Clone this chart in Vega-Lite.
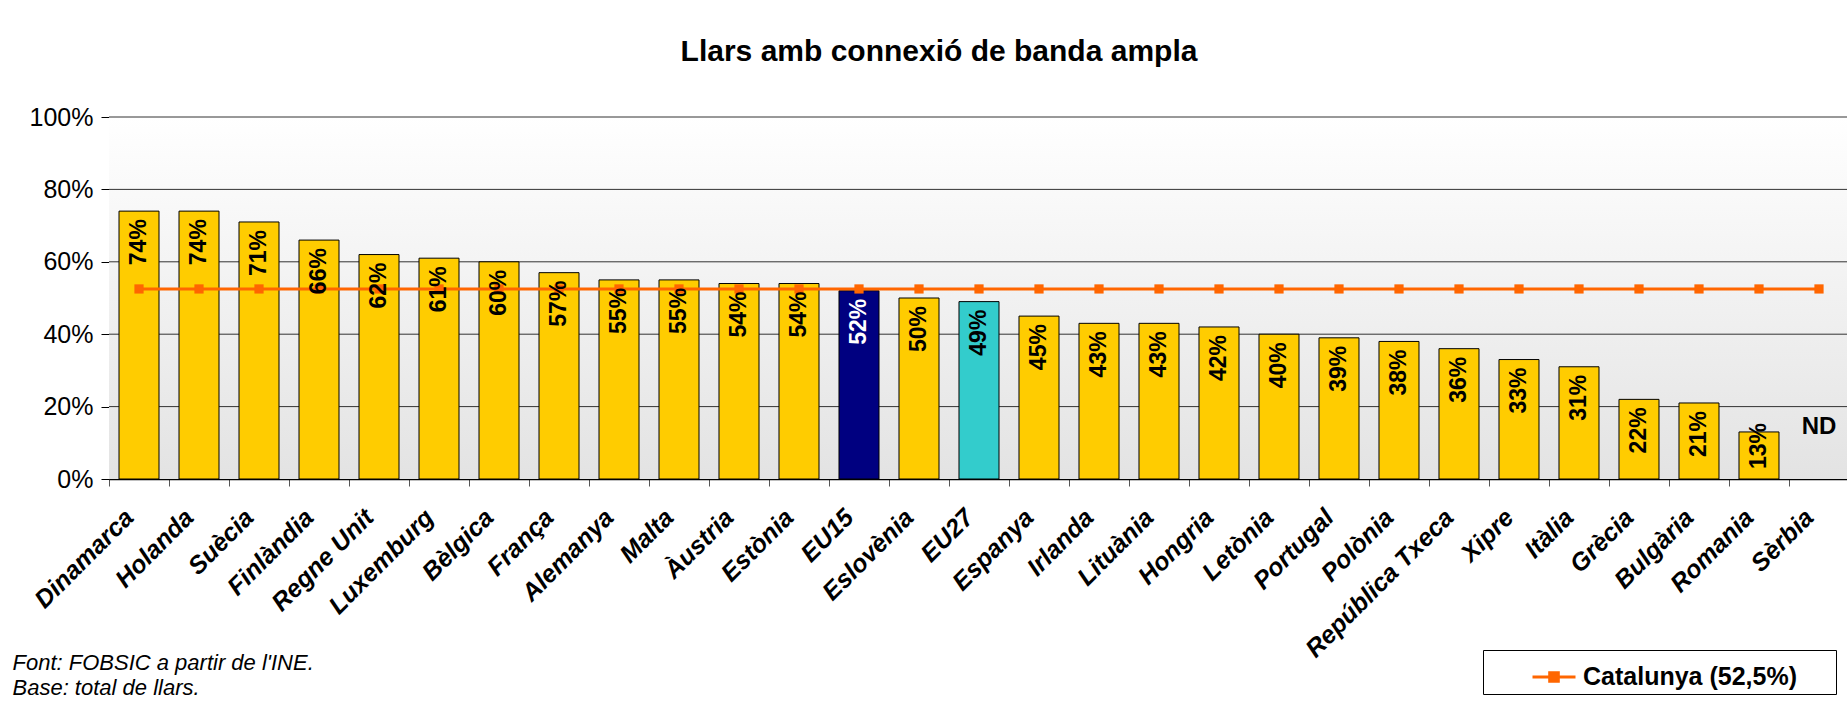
{
  "$schema": "https://vega.github.io/schema/vega-lite/v6.json",
  "autosize": {"type": "none"},
  "width": 1740,
  "height": 362,
  "padding": {"left": 109, "top": 117, "right": 0, "bottom": 236},
  "background": "white",
  "title": {
    "text": "Llars amb connexió de banda ampla",
    "font": "Liberation Sans",
    "fontSize": 30,
    "fontWeight": "bold",
    "color": "black",
    "anchor": "middle",
    "dx": -40,
    "offset": 14,
    "baseline": "alphabetic"
  },
  "config": {"view": {"stroke": null}, "font": "Liberation Sans"},
  "data": {
    "values": [
      {"pais": "Dinamarca", "valor": 0.74, "catalunya": 0.525},
      {"pais": "Holanda", "valor": 0.74, "catalunya": 0.525},
      {"pais": "Suècia", "valor": 0.71, "catalunya": 0.525},
      {"pais": "Finlàndia", "valor": 0.66, "catalunya": 0.525},
      {"pais": "Regne Unit", "valor": 0.62, "catalunya": 0.525},
      {"pais": "Luxemburg", "valor": 0.61, "catalunya": 0.525},
      {"pais": "Bèlgica", "valor": 0.60, "catalunya": 0.525},
      {"pais": "França", "valor": 0.57, "catalunya": 0.525},
      {"pais": "Alemanya", "valor": 0.55, "catalunya": 0.525},
      {"pais": "Malta", "valor": 0.55, "catalunya": 0.525},
      {"pais": "Àustria", "valor": 0.54, "catalunya": 0.525},
      {"pais": "Estònia", "valor": 0.54, "catalunya": 0.525},
      {"pais": "EU15", "valor": 0.52, "catalunya": 0.525},
      {"pais": "Eslovènia", "valor": 0.50, "catalunya": 0.525},
      {"pais": "EU27", "valor": 0.49, "catalunya": 0.525},
      {"pais": "Espanya", "valor": 0.45, "catalunya": 0.525},
      {"pais": "Irlanda", "valor": 0.43, "catalunya": 0.525},
      {"pais": "Lituània", "valor": 0.43, "catalunya": 0.525},
      {"pais": "Hongria", "valor": 0.42, "catalunya": 0.525},
      {"pais": "Letònia", "valor": 0.40, "catalunya": 0.525},
      {"pais": "Portugal", "valor": 0.39, "catalunya": 0.525},
      {"pais": "Polònia", "valor": 0.38, "catalunya": 0.525},
      {"pais": "República Txeca", "valor": 0.36, "catalunya": 0.525},
      {"pais": "Xipre", "valor": 0.33, "catalunya": 0.525},
      {"pais": "Itàlia", "valor": 0.31, "catalunya": 0.525},
      {"pais": "Grècia", "valor": 0.22, "catalunya": 0.525},
      {"pais": "Bulgària", "valor": 0.21, "catalunya": 0.525},
      {"pais": "Romania", "valor": 0.13, "catalunya": 0.525},
      {"pais": "Sèrbia", "valor": null, "catalunya": 0.525}
    ]
  },
  "layer": [
    {
      "data": {"values": [{}]},
      "mark": {
        "type": "rect",
        "fill": {
          "gradient": "linear",
          "x1": 0, "y1": 0, "x2": 0, "y2": 1,
          "stops": [
            {"offset": 0, "color": "#ffffff"},
            {"offset": 1, "color": "#e3e3e3"}
          ]
        }
      },
      "encoding": {
        "y": {"datum": 1, "type": "quantitative", "scale": {"domain": [0, 1], "nice": false}},
        "y2": {"datum": 0}
      }
    },
    {
      "data": {"values": [{"g": 0.2}, {"g": 0.4}, {"g": 0.6}, {"g": 0.8}, {"g": 1}]},
      "mark": {"type": "rule", "color": "#333333", "strokeWidth": 1},
      "encoding": {"y": {"field": "g", "type": "quantitative"}}
    },
    {
      "mark": {"type": "bar", "stroke": "black", "strokeWidth": 1},
      "encoding": {
        "x": {
          "field": "pais",
          "type": "nominal",
          "sort": null,
          "scale": {"paddingInner": 0.3333, "paddingOuter": 0.1667},
          "axis": {
            "title": ["Font: FOBSIC a partir de l'INE.", "Base: total de llars."],
            "titleX": -97,
            "titleY": 190,
            "titleAlign": "left",
            "titleBaseline": "alphabetic",
            "titleFont": "Liberation Sans",
            "titleFontSize": 22,
            "titleFontStyle": "italic",
            "titleFontWeight": "normal",
            "titleLineHeight": 25,
            "titleColor": "black",
            "labelAngle": -45,
            "labelAlign": "right",
            "labelBaseline": "middle",
            "labelFont": "Liberation Sans",
            "labelFontSize": 25,
            "labelFontWeight": "bold",
            "labelFontStyle": "italic",
            "labelColor": "black",
            "labelOffset": 20,
            "labelPadding": 27,
            "labelLimit": 400,
            "labelOverlap": false,
            "tickOffset": -30,
            "tickSize": 7,
            "tickColor": "#555555",
            "domainColor": "black",
            "domainWidth": 1.5,
            "grid": false
          }
        },
        "y": {
          "field": "valor",
          "type": "quantitative",
          "scale": {"domain": [0, 1], "nice": false},
          "axis": {
            "title": null,
            "format": ".0%",
            "values": [0, 0.2, 0.4, 0.6, 0.8, 1],
            "grid": false,
            "labelFont": "Liberation Sans",
            "labelFontSize": 25,
            "labelColor": "black",
            "labelPadding": 8,
            "tickSize": 8,
            "tickColor": "black",
            "domainColor": "black"
          }
        },
        "fill": {
          "condition": [
            {"test": "datum.pais === 'EU15'", "value": "#000080"},
            {"test": "datum.pais === 'EU27'", "value": "#33CCCC"}
          ],
          "value": "#FFCC00"
        }
      }
    },
    {
      "mark": {"type": "line", "strokeWidth": 3},
      "encoding": {
        "x": {"field": "pais", "type": "nominal", "sort": null},
        "y": {"field": "catalunya", "type": "quantitative"},
        "stroke": {
          "datum": "Catalunya (52,5%)",
          "type": "nominal",
          "scale": {"range": ["#FF6600"]},
          "legend": {
            "title": " ",
            "titleOrient": "right",
            "titlePadding": 35,
            "titleFontSize": 25,
            "orient": "none",
            "legendX": 1374,
            "legendY": 533,
            "strokeColor": "black",
            "fillColor": "white",
            "padding": 4,
            "symbolOffset": 44,
            "symbolType": "M-1,0L1,0M-0.2,-0.2L0.2,-0.2L0.2,0.2L-0.2,0.2Z",
            "symbolSize": 1849,
            "symbolStrokeWidth": 3,
            "labelFont": "Liberation Sans",
            "labelFontSize": 25,
            "labelFontWeight": "bold",
            "labelColor": "black",
            "labelOffset": 6,
            "labelLimit": 400,
            "encode": {
              "symbols": {"update": {"fill": {"value": "#FF6600"}, "stroke": {"value": "#FF6600"}, "opacity": {"value": 1}}}
            }
          }
        }
      }
    },
    {
      "mark": {"type": "square", "size": 85, "color": "#FF6600", "opacity": 1, "filled": true},
      "encoding": {
        "x": {"field": "pais", "type": "nominal", "sort": null},
        "y": {"field": "catalunya", "type": "quantitative"}
      }
    },
    {
      "transform": [{"filter": "datum.valor != null && datum.valor >= 0.15"}],
      "mark": {"type": "text", "angle": 270, "align": "right", "baseline": "middle", "dx": -8, "font": "Liberation Sans", "fontSize": 23, "fontWeight": "bold"},
      "encoding": {
        "x": {"field": "pais", "type": "nominal", "sort": null},
        "y": {"field": "valor", "type": "quantitative"},
        "text": {"field": "valor", "type": "quantitative", "format": ".0%"},
        "color": {"condition": {"test": "datum.pais === 'EU15'", "value": "white"}, "value": "black"}
      }
    },
    {
      "transform": [{"filter": "datum.valor != null && datum.valor < 0.15"}],
      "mark": {"type": "text", "angle": 270, "align": "left", "baseline": "middle", "dx": 10, "font": "Liberation Sans", "fontSize": 23, "fontWeight": "bold", "color": "black"},
      "encoding": {
        "x": {"field": "pais", "type": "nominal", "sort": null},
        "y": {"datum": 0, "type": "quantitative"},
        "text": {"field": "valor", "type": "quantitative", "format": ".0%"}
      }
    },
    {
      "transform": [{"filter": "datum.valor == null"}],
      "mark": {"type": "text", "align": "center", "baseline": "middle", "font": "Liberation Sans", "fontSize": 24, "fontWeight": "bold", "color": "black", "text": "ND"},
      "encoding": {
        "x": {"field": "pais", "type": "nominal", "sort": null},
        "y": {"datum": 0.145, "type": "quantitative"}
      }
    }
  ]
}
